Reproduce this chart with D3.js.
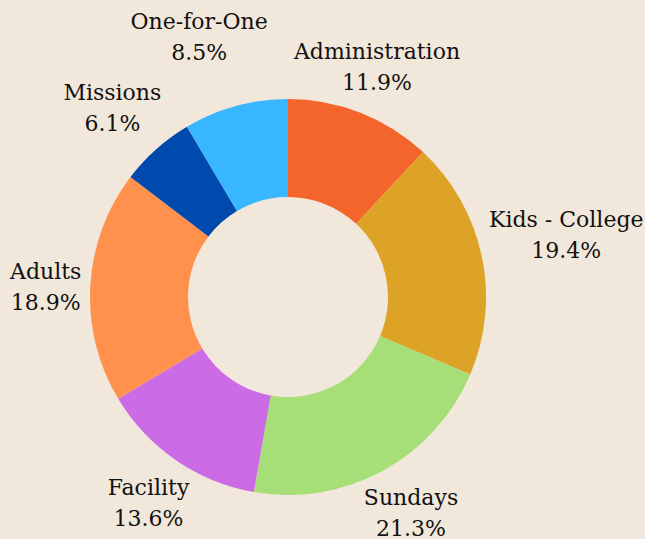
<!DOCTYPE html>
<html>
<head>
<meta charset="utf-8">
<script src="https://cdn.jsdelivr.net/npm/d3@7"></script>
<style>
  html, body { margin: 0; padding: 0; background: #f1e7da; }
  svg { display: block; }
</style>
</head>
<body>
<div id="chart"></div>
<script>
const categories = ["Administration", "Kids - College", "Sundays", "Facility", "Adults", "Missions", "One-for-One"];
const values = [11.9, 19.4, 21.3, 13.6, 18.9, 6.1, 8.5];
const colors = ["#f4652b", "#dda326", "#a6df78", "#cb6ce6", "#ff914d", "#004aad", "#38b6ff"];

const width = 645, height = 539;
const cx = 288, cy = 297;
const outerR = 198, innerR = 100;
const labelGap = 200;
const lineH = 31;

// small nudges so labels sit where the original put them (top two would collide)
const nudge = {
    "Administration": [-5, 8],
    "One-for-One": [-24, -24],
    "Missions": [-7, 0],
    "Adults": [-5, 3],
    "Kids - College": [3, -4],
    "Sundays": [5, -2],
    "Facility": [0, 2]
};

const svg = d3.select("#chart").append("svg")
    .attr("width", width)
    .attr("height", height);

svg.append("rect").attr("width", width).attr("height", height).attr("fill", "#f1e7da");

const data = categories.map((c, i) => ({ name: c, value: values[i], color: colors[i] }));

const pie = d3.pie().sort(null).value(d => d.value);
const arc = d3.arc().innerRadius(innerR).outerRadius(outerR);

const g = svg.append("g").attr("transform", `translate(${cx},${cy})`);
const arcs = pie(data);

g.selectAll("path")
    .data(arcs)
    .enter()
    .append("path")
        .attr("d", arc)
        .attr("fill", d => d.data.color);

const labels = g.selectAll("g.label")
    .data(arcs)
    .enter()
    .append("g")
        .classed("label", true);

labels.append("text")
    .attr("text-anchor", "middle")
    .attr("font-family", "DejaVu Serif")
    .attr("font-size", 22)
    .attr("fill", "#111")
    .selectAll("tspan")
    .data(d => [d.data.name, d3.format(".1f")(d.data.value) + "%"])
    .enter()
    .append("tspan")
        .attr("x", 0)
        .attr("y", (d, i) => (i - 0.5) * lineH + 8)
        .text(d => d);

labels.attr("transform", function(d){
    const box = this.getBBox();
    const a = (d.startAngle + d.endAngle) / 2;
    const sx = Math.sin(a), sy = -Math.cos(a);
    const w = box.width / 2, h = box.height / 2;
    const dist = labelGap + Math.abs(sx) * w + Math.abs(sy) * h;
    const n = nudge[d.data.name] || [0, 0];
    return `translate(${sx * dist + n[0]}, ${sy * dist + n[1]})`;
});
</script>
</body>
</html>
